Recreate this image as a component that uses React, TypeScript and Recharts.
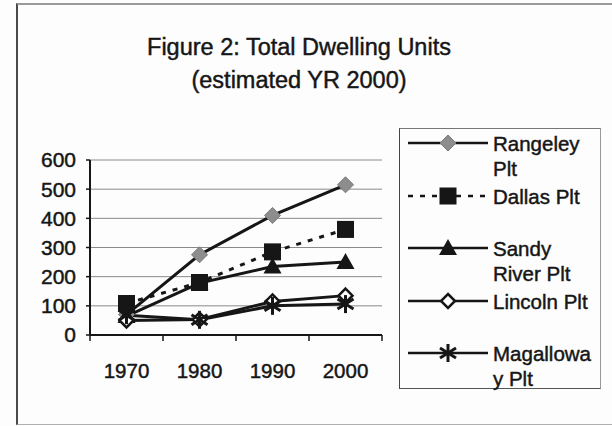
import { CartesianGrid, Line, LineChart, XAxis, YAxis } from "recharts";

const years = ["1970", "1980", "1990", "2000"];
const rangeley = [70, 275, 410, 515];
const dallas = [108, 180, 285, 362];
const sandyRiver = [65, 178, 235, 250];
const lincoln = [50, 53, 115, 135];
const magalloway = [68, 52, 100, 106];
const yTicks = [0, 100, 200, 300, 400, 500, 600];

const titleLines = ["Figure 2: Total Dwelling Units", "(estimated YR 2000)"];

const FONT = '"Liberation Sans", Arial, sans-serif';
const INK = "#161616";
const HALF_BAND = 36.5;
// the scan looks a bit heavier than plain Arial
const HEAVY = "0.45px " + INK;

const data = years.map((year, i) => ({
  year,
  rangeley: rangeley[i],
  dallas: dallas[i],
  sandyRiver: sandyRiver[i],
  lincoln: lincoln[i],
  magalloway: magalloway[i],
}));

type Shape = "diamond" | "square" | "triangle" | "hollow" | "star";

function Marker({ shape, cx, cy }: { shape: Shape; cx: number; cy: number }) {
  if (shape === "diamond")
    return (
      <polygon
        fill="#8d8d8d"
        points={`${cx},${cy - 8} ${cx + 8},${cy} ${cx},${cy + 8} ${cx - 8},${cy}`}
        stroke="#7a7a7a"
        strokeWidth={1}
      />
    );
  if (shape === "square") return <rect fill={INK} height={17} width={17} x={cx - 8.5} y={cy - 8.5} />;
  if (shape === "triangle")
    return <polygon fill={INK} points={`${cx},${cy - 9} ${cx + 9},${cy + 7} ${cx - 9},${cy + 7}`} />;
  if (shape === "hollow")
    return (
      <polygon
        fill="#fff"
        points={`${cx},${cy - 7} ${cx + 7},${cy} ${cx},${cy + 7} ${cx - 7},${cy}`}
        stroke={INK}
        strokeWidth={2.5}
      />
    );
  return (
    <g stroke={INK} strokeWidth={3}>
      <line x1={cx} x2={cx} y1={cy - 9} y2={cy + 9} />
      <line x1={cx - 8} x2={cx + 8} y1={cy - 5} y2={cy + 5} />
      <line x1={cx - 8} x2={cx + 8} y1={cy + 5} y2={cy - 5} />
    </g>
  );
}

const series: { key: string; lines: string[]; shape: Shape; dash?: string }[] = [
  { key: "rangeley", lines: ["Rangeley", "Plt"], shape: "diamond" },
  { key: "dallas", lines: ["Dallas Plt"], shape: "square", dash: "5 7" },
  { key: "sandyRiver", lines: ["Sandy", "River Plt"], shape: "triangle" },
  { key: "lincoln", lines: ["Lincoln Plt"], shape: "hollow" },
  { key: "magalloway", lines: ["Magallowa", "y Plt"], shape: "star" },
];

// draw order: Sandy River under Dallas so the square stays on top at 1980
const drawOrder = ["rangeley", "sandyRiver", "dallas", "lincoln", "magalloway"];

function YearTick(props: any) {
  const { x, y, payload, index } = props;
  const axisY = y - 28;
  return (
    <g>
      <line stroke={INK} strokeWidth={1.5} x1={x - HALF_BAND} x2={x - HALF_BAND} y1={axisY} y2={axisY + 6} />
      {index === years.length - 1 && (
        <line stroke={INK} strokeWidth={1.5} x1={x + HALF_BAND} x2={x + HALF_BAND} y1={axisY} y2={axisY + 6} />
      )}
      <text
        dy="0.71em"
        fill={INK}
        fontFamily={FONT}
        fontSize={20.5}
        stroke={INK}
        strokeWidth={0.45}
        textAnchor="middle"
        x={x}
        y={y}
      >
        {payload.value}
      </text>
    </g>
  );
}

export default function App() {
  return (
    <div style={{ position: "absolute", left: 0, top: 0, width: 612, height: 426, background: "#fdfdfd", overflow: "hidden" }}>
      <div
        style={{
          position: "absolute",
          left: 16,
          top: 3,
          width: 620,
          height: 419,
          borderLeft: "2px solid #4a4a4a",
          borderTop: "2px solid #9a9a9a",
          borderBottom: "1px solid #b0b0b0",
        }}
      />
      {titleLines.map((t, i) => (
        <div
          key={t}
          style={{
            position: "absolute",
            left: 0,
            width: 598,
            top: 33 + i * 33,
            textAlign: "center",
            fontFamily: FONT,
            fontSize: 23.5,
            lineHeight: "28px",
            color: INK,
            WebkitTextStroke: HEAVY,
          }}
        >
          {t}
        </div>
      ))}
      <div style={{ position: "absolute", left: 0, top: 0 }}>
        <LineChart data={data} height={426} margin={{ top: 160, right: 230, bottom: 41, left: 0 }} width={612}>
          <CartesianGrid horizontal stroke="#8a8a8a" strokeWidth={1} vertical={false} />
          <XAxis
            axisLine={{ stroke: INK, strokeWidth: 2 }}
            dataKey="year"
            height={50}
            interval={0}
            padding={{ left: HALF_BAND, right: HALF_BAND }}
            tick={<YearTick />}
            tickLine={false}
            tickMargin={28}
            tickSize={0}
          />
          <YAxis
            axisLine={{ stroke: INK, strokeWidth: 2 }}
            domain={[0, 600]}
            interval={0}
            tick={{ fill: INK, fontFamily: FONT, fontSize: 21, stroke: INK, strokeWidth: 0.45 }}
            tickLine={{ stroke: INK, strokeWidth: 1.5 }}
            tickMargin={10}
            tickSize={4}
            ticks={yTicks}
            width={90}
          />
          {drawOrder.map((key) => {
            const s = series.find((e) => e.key === key)!;
            return (
              <Line
                dataKey={s.key}
                dot={(p: any) => <Marker cx={p.cx} cy={p.cy} key={`${s.key}-${p.index}`} shape={s.shape} />}
                isAnimationActive={false}
                key={s.key}
                stroke={INK}
                strokeDasharray={s.dash}
                strokeWidth={3}
                type="linear"
              />
            );
          })}
        </LineChart>
      </div>
      <div
        style={{
          position: "absolute",
          left: 399,
          top: 128,
          width: 200,
          height: 259,
          borderLeft: "1.5px solid #444",
          borderTop: "1px solid #777",
          borderRight: "1px solid #999",
          borderBottom: "1.5px solid #555",
        }}
      >
        {series.map((s, i) => (
          <div key={s.key} style={{ position: "absolute", left: 7, top: 7 + i * 52.5 - 10, display: "flex" }}>
            <svg height={20} style={{ marginTop: 7 }} width={82}>
              <line stroke={INK} strokeDasharray={s.dash} strokeWidth={2.5} x1={1} x2={81} y1={10} y2={10} />
              <Marker cx={41} cy={10} shape={s.shape} />
            </svg>
            <div
              style={{
                marginLeft: 4,
                fontFamily: FONT,
                fontSize: 20.5,
                lineHeight: "25px",
                color: INK,
                paddingTop: 5,
                WebkitTextStroke: HEAVY,
              }}
            >
              {s.lines.map((l) => (
                <div key={l}>{l}</div>
              ))}
            </div>
          </div>
        ))}
      </div>
    </div>
  );
}
